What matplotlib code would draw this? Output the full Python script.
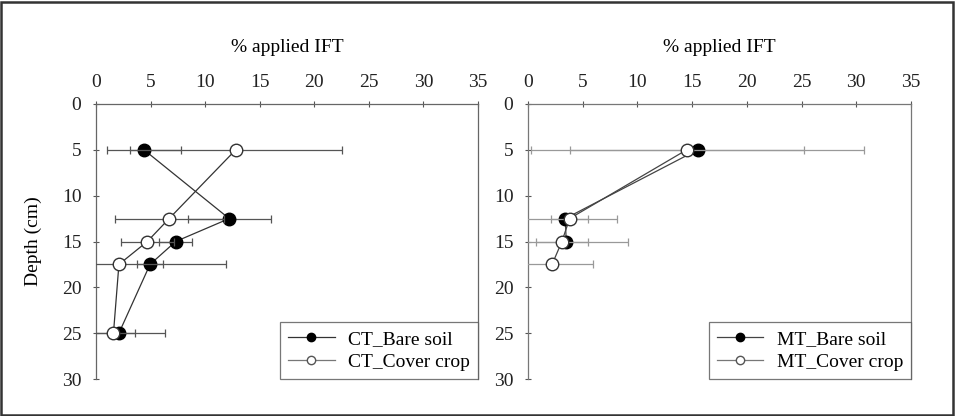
import matplotlib
matplotlib.use("Agg")
import matplotlib.pyplot as plt
from matplotlib.patches import Rectangle
from matplotlib.lines import Line2D

# Depth profiles of % applied IFT under conventional (CT) and minimum (MT) tillage
ct_depth = [5, 12.5, 15, 17.5, 25]
ct_bare = [4.4, 12.2, 7.3, 4.95, 2.1]
ct_bare_err = [3.35, 3.8, 1.5, 1.15, 4.2]
ct_cover = [12.8, 6.7, 4.7, 2.1, 1.6]
ct_cover_err = [9.7, 5.0, 2.45, 9.8, 2.0]

mt_depth = [5, 12.5, 15]
mt_bare = [15.5, 3.4, 3.5]
mt_bare_err = [15.2, 4.7, 5.6]
mt_cover_depth = [5, 12.5, 15, 17.5]
mt_cover = [14.5, 3.8, 3.1, 2.2]
mt_cover_err = [10.7, 1.7, 2.4, 3.7]

x_ticks = [0, 5, 10, 15, 20, 25, 30, 35]
y_ticks = [0, 5, 10, 15, 20, 25, 30]

plt.rcParams['font.family'] = ['Liberation Serif', 'DejaVu Serif']
FS = 14

fig = plt.figure(figsize=(9.55, 4.16), dpi=100)
fig.patches.append(Rectangle((0.0015, 0.003), 0.996, 0.993, transform=fig.transFigure,
                             fill=False, edgecolor='#333333', linewidth=1.8))

ax1 = fig.add_axes([96 / 955, 1 - 379 / 416, 382 / 955, 275 / 416])
ax2 = fig.add_axes([528 / 955, 1 - 379 / 416, 383 / 955, 275 / 416])


def panel(ax, depth_b, bare, bare_err, depth_c, cover, cover_err, labels,
          line_col, err_col, spine_col):
    ax.errorbar(bare, depth_b, xerr=bare_err, fmt='-o', color=line_col,
                ecolor=err_col, elinewidth=0.9, capsize=3, capthick=0.9,
                linewidth=0.9, markersize=9, markerfacecolor='black',
                markeredgecolor='black', zorder=3)
    ax.errorbar(cover, depth_c, xerr=cover_err, fmt='-o', color=line_col,
                ecolor=err_col, elinewidth=0.9, capsize=3, capthick=0.9,
                linewidth=0.9, markersize=9, markerfacecolor='white',
                markeredgecolor='#333333', zorder=4)
    ax.set_xlim(0, 35)
    ax.set_ylim(30, 0)
    ax.set_xticks(x_ticks)
    ax.set_yticks(y_ticks)
    ax.xaxis.tick_top()
    ax.xaxis.set_label_position('top')
    ax.set_xlabel('% applied IFT', fontsize=FS, labelpad=16)
    ax.tick_params(axis='both', direction='inout', length=5, width=0.8,
                   labelsize=FS, colors='#555555', labelcolor='#222222')
    ax.tick_params(axis='x', pad=7)
    ax.tick_params(axis='y', pad=8)
    for s in ['left', 'top', 'right']:
        ax.spines[s].set_color(spine_col)
        ax.spines[s].set_linewidth(0.9)
    ax.spines['bottom'].set_visible(False)
    handles = [
        Line2D([], [], color=line_col, linewidth=0.9, marker='o', markersize=6,
               markerfacecolor='black', markeredgecolor='black'),
        Line2D([], [], color='#777777', linewidth=0.9, marker='o', markersize=6,
               markerfacecolor='white', markeredgecolor='#555555'),
    ]
    leg = ax.legend(handles, labels, loc='lower right', fontsize=FS, frameon=True,
                    fancybox=False, borderaxespad=0, handlelength=2.4,
                    borderpad=0.4, labelspacing=0.3, handletextpad=0.7)
    leg.get_frame().set_edgecolor('#555555')
    leg.get_frame().set_linewidth(0.9)


panel(ax1, ct_depth, ct_bare, ct_bare_err, ct_depth, ct_cover, ct_cover_err,
      ['CT_Bare soil', 'CT_Cover crop'], '#333333', '#555555', '#666666')
panel(ax2, mt_depth, mt_bare, mt_bare_err, mt_cover_depth, mt_cover, mt_cover_err,
      ['MT_Bare soil', 'MT_Cover crop'], '#444444', '#999999', '#777777')

ax1.set_ylabel('Depth (cm)', fontsize=FS, labelpad=14)

fig.savefig('out.png', dpi=100)
